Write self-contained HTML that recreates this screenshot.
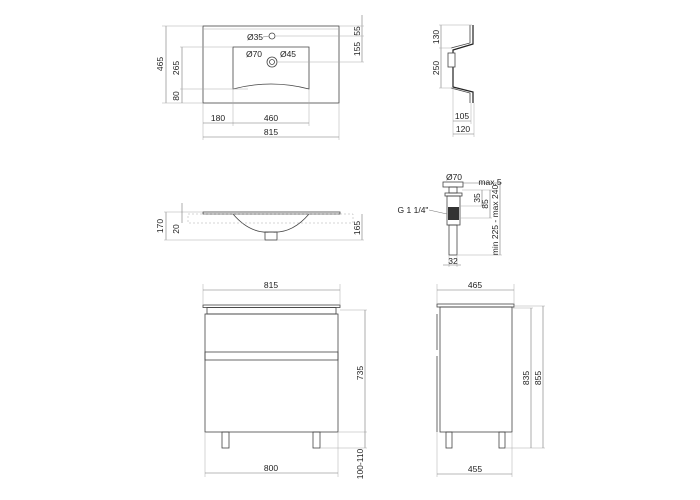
<!DOCTYPE html>
<html><head><meta charset="utf-8"><style>
html,body{margin:0;padding:0;background:#fff;}
svg{display:block;}
text{font-family:"Liberation Sans",sans-serif;font-size:8.5px;fill:#222;}
.l{stroke:#444;stroke-width:0.8;fill:none;}
.t{stroke:#222;stroke-width:1.2;fill:none;}
.d{stroke:#777;stroke-width:0.6;fill:none;}
.e{stroke:#aaa;stroke-width:0.5;fill:none;}
</style></head><body>
<svg width="700" height="500" viewBox="0 0 700 500" xmlns="http://www.w3.org/2000/svg">
<!-- TOP VIEW -->
<rect class="l" x="203" y="26" width="136" height="77"/>
<line class="e" x1="203" y1="29" x2="339" y2="29"/>
<path class="l" d="M233 47 L309 47 L309 89 Q271 79 233 89 Z"/>
<circle class="l" cx="272" cy="36" r="3"/>
<circle class="l" cx="272" cy="62" r="5"/>
<circle class="l" cx="272" cy="62" r="2.5"/>
<line class="d" x1="166" y1="26" x2="166" y2="103"/><line class="e" x1="162" y1="26" x2="203" y2="26"/><line class="e" x1="162" y1="103" x2="203" y2="103"/>
<text transform="translate(163,64) rotate(-90)" text-anchor="middle">465</text>
<line class="d" x1="182" y1="47" x2="182" y2="103"/><line class="e" x1="180" y1="47" x2="233" y2="47"/><line class="e" x1="180" y1="89" x2="248" y2="89"/>
<text transform="translate(179,68) rotate(-90)" text-anchor="middle">265</text>
<text transform="translate(179,96) rotate(-90)" text-anchor="middle">80</text>
<line class="d" x1="362" y1="15" x2="362" y2="62"/><line class="e" x1="275" y1="36" x2="364" y2="36"/><line class="e" x1="277" y1="62" x2="364" y2="62"/><line class="e" x1="339" y1="26" x2="364" y2="26"/>
<text transform="translate(360,31) rotate(-90)" text-anchor="middle">55</text>
<text transform="translate(360,49) rotate(-90)" text-anchor="middle">155</text>
<text x="255" y="40" text-anchor="middle">Ø35</text><line class="d" x1="263" y1="37" x2="269" y2="36"/>
<text x="254" y="57" text-anchor="middle">Ø70</text><text x="288" y="57" text-anchor="middle">Ø45</text>
<line class="e" x1="203" y1="103" x2="203" y2="140"/><line class="e" x1="233" y1="89" x2="233" y2="126"/><line class="e" x1="309" y1="89" x2="309" y2="126"/><line class="e" x1="339" y1="103" x2="339" y2="140"/>
<line class="d" x1="203" y1="123" x2="309" y2="123"/><line class="d" x1="203" y1="137" x2="339" y2="137"/>
<text x="218" y="121" text-anchor="middle">180</text><text x="271" y="121" text-anchor="middle">460</text><text x="271" y="135" text-anchor="middle">815</text>
<!-- SIDE PROFILE -->
<path class="t" d="M473 25 L473 44 L453 50 L453 53 M453 67 L453 87 L473 92 L473 103"/>
<path class="l" d="M470 25 L470 43 L451 48 M451 88 L470 93 L470 103"/>
<rect class="l" x="448" y="53" width="7" height="14"/>
<line class="d" x1="441" y1="25" x2="441" y2="88"/><line class="e" x1="439" y1="25" x2="472" y2="25"/><line class="e" x1="439" y1="48" x2="452" y2="48"/><line class="e" x1="439" y1="88" x2="452" y2="88"/>
<text transform="translate(439,37) rotate(-90)" text-anchor="middle">130</text>
<text transform="translate(439,68) rotate(-90)" text-anchor="middle">250</text>
<line class="e" x1="453" y1="88" x2="453" y2="137"/><line class="e" x1="474" y1="103" x2="474" y2="137"/><line class="e" x1="471" y1="103" x2="471" y2="124"/>
<line class="d" x1="453" y1="121" x2="471" y2="121"/><line class="d" x1="453" y1="134" x2="474" y2="134"/>
<text x="462" y="119" text-anchor="middle">105</text><text x="463" y="132" text-anchor="middle">120</text>
<!-- FRONT SECTION -->
<rect class="l" x="203" y="212" width="137" height="2"/>
<path class="l" d="M233 214 Q250 234 271 232 Q292 234 309 214"/>
<rect class="l" x="265" y="232" width="12" height="8"/>
<rect class="e" x="188" y="214" width="165" height="9" stroke-dasharray="2 2"/>
<line class="d" x1="166" y1="212" x2="166" y2="240"/><line class="e" x1="164" y1="212" x2="203" y2="212"/><line class="e" x1="164" y1="240" x2="265" y2="240"/><line class="e" x1="277" y1="240" x2="364" y2="240"/>
<text transform="translate(163,226) rotate(-90)" text-anchor="middle">170</text>
<line class="d" x1="182" y1="203" x2="182" y2="223"/>
<text transform="translate(179,229) rotate(-90)" text-anchor="middle">20</text>
<line class="d" x1="362" y1="214" x2="362" y2="240"/>
<text transform="translate(360,228) rotate(-90)" text-anchor="middle">165</text>
<!-- DRAIN -->
<rect class="l" x="443" y="182" width="20" height="5"/>
<rect class="l" x="449" y="187" width="8" height="6"/>
<rect class="l" x="445" y="193" width="17" height="3"/>
<rect class="l" x="447" y="196" width="13" height="29"/>
<rect x="448" y="207" width="11" height="13" fill="#333"/>
<rect class="l" x="449" y="225" width="8" height="30"/>
<text x="454" y="180" text-anchor="middle">Ø70</text>
<line class="d" x1="463" y1="183" x2="502" y2="183"/><text x="490" y="185" text-anchor="middle">max.5</text>
<line class="e" x1="462" y1="190" x2="492" y2="190"/><line class="e" x1="460" y1="206" x2="484" y2="206"/><line class="e" x1="460" y1="218" x2="492" y2="218"/><line class="e" x1="457" y1="255" x2="502" y2="255"/>
<line class="d" x1="482" y1="190" x2="482" y2="206"/><line class="d" x1="490" y1="190" x2="490" y2="218"/><line class="d" x1="500" y1="183" x2="500" y2="255"/>
<text transform="translate(480,198) rotate(-90)" text-anchor="middle">35</text>
<text transform="translate(488,204) rotate(-90)" text-anchor="middle">85</text>
<text transform="translate(498,220) rotate(-90)" text-anchor="middle">min 225 - max 240</text>
<text x="413" y="213" text-anchor="middle">G 1 1/4"</text><line class="d" x1="429" y1="210" x2="447" y2="214"/>
<line class="e" x1="449" y1="255" x2="449" y2="267"/><line class="e" x1="457" y1="255" x2="457" y2="267"/>
<line class="d" x1="443" y1="265" x2="461" y2="265"/><text x="453" y="264" text-anchor="middle">32</text>
<!-- FRONT CABINET -->
<rect class="l" x="203" y="305" width="137" height="2.5"/>
<rect class="l" x="207" y="307.5" width="129" height="6.5"/>
<rect class="l" x="205" y="314" width="133" height="118"/>
<rect class="l" x="205" y="352" width="133" height="8"/>
<rect class="l" x="222" y="432" width="7" height="16"/>
<rect class="l" x="313" y="432" width="7" height="16"/>
<line class="e" x1="203" y1="284" x2="203" y2="305"/><line class="e" x1="340" y1="284" x2="340" y2="305"/>
<line class="d" x1="203" y1="290" x2="340" y2="290"/><text x="271" y="288" text-anchor="middle">815</text>
<line class="e" x1="205" y1="432" x2="205" y2="477"/><line class="e" x1="338" y1="432" x2="338" y2="477"/>
<line class="d" x1="205" y1="473" x2="338" y2="473"/><text x="271" y="471" text-anchor="middle">800</text>
<line class="e" x1="340" y1="310" x2="367" y2="310"/><line class="e" x1="338" y1="432" x2="367" y2="432"/><line class="e" x1="320" y1="448" x2="367" y2="448"/>
<line class="d" x1="365" y1="310" x2="365" y2="448"/>
<text transform="translate(363,373) rotate(-90)" text-anchor="middle">735</text>
<text transform="translate(363,464) rotate(-90)" text-anchor="middle">100-110</text>
<!-- SIDE CABINET -->
<rect class="l" x="437" y="304" width="77" height="3"/>
<rect class="l" x="440" y="307" width="72" height="125"/>
<line class="l" x1="437" y1="314" x2="437" y2="350"/><line class="l" x1="437" y1="356" x2="437" y2="432"/>
<rect class="l" x="446" y="432" width="6" height="16"/>
<rect class="l" x="499" y="432" width="6" height="16"/>
<line class="e" x1="437" y1="284" x2="437" y2="304"/><line class="e" x1="514" y1="284" x2="514" y2="304"/>
<line class="d" x1="437" y1="290" x2="514" y2="290"/><text x="475" y="288" text-anchor="middle">465</text>
<line class="e" x1="437" y1="432" x2="437" y2="477"/><line class="e" x1="512" y1="432" x2="512" y2="477"/>
<line class="d" x1="437" y1="474" x2="512" y2="474"/><text x="475" y="472" text-anchor="middle">455</text>
<line class="e" x1="514" y1="306" x2="545" y2="306"/><line class="e" x1="512" y1="308" x2="533" y2="308"/><line class="e" x1="505" y1="448" x2="545" y2="448"/>
<line class="d" x1="531" y1="308" x2="531" y2="448"/><line class="d" x1="543" y1="306" x2="543" y2="448"/>
<text transform="translate(529,378) rotate(-90)" text-anchor="middle">835</text>
<text transform="translate(541,378) rotate(-90)" text-anchor="middle">855</text>
</svg>
</body></html>
